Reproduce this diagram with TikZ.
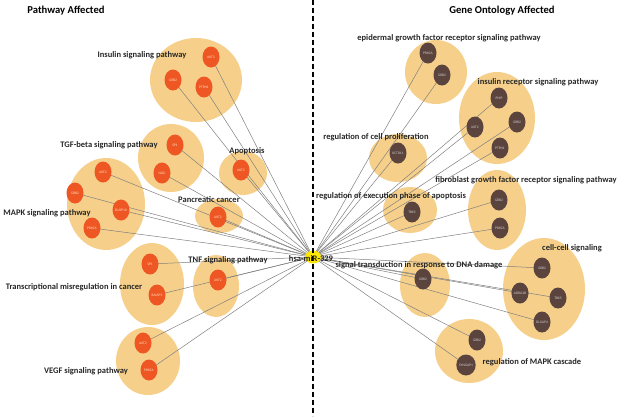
\documentclass[tikz,border=0pt]{standalone}
\usepackage{fontspec}
\setmainfont{Carlito}
\usepackage{xcolor}
\usetikzlibrary{shapes.geometric}
\definecolor{grpfill}{HTML}{F6D08A}
\definecolor{pgenefill}{HTML}{EE5624}
\definecolor{ggenefill}{HTML}{5C443E}
\definecolor{edgegray}{HTML}{808080}
\pgfdeclarelayer{groups}
\pgfdeclarelayer{edges}
\pgfsetlayers{groups,edges,main}

\begin{document}
\begin{tikzpicture}[x=1pt, y=-1pt,
    grp/.style={ellipse, fill=grpfill, draw=none, inner sep=0pt},
    gene/.style={ellipse, minimum width=17pt, minimum height=21pt, inner sep=0pt,
        font=\fontsize{3.6}{4}\selectfont},
    pgene/.style={gene, fill=pgenefill, text=orange!25},
    ggene/.style={gene, fill=ggenefill, text=black!20},
    lbl/.style={font=\fontsize{8.5}{9}\selectfont\bfseries, text=black!85, inner sep=0pt},
    title/.style={font=\fontsize{10.6}{12}\selectfont\bfseries, inner sep=0pt}]
    \useasboundingbox (0,0) rectangle (624,416);

    % group backgrounds
    \begin{pgfonlayer}{groups}
    \node[grp, minimum width=92pt, minimum height=84pt] (ins) at (196,80) {};
    \node[grp, minimum width=66pt, minimum height=68pt] (tgf) at (171,158) {};
    \node[grp, minimum width=48pt, minimum height=44pt] (apo) at (243,173) {};
    \node[grp, minimum width=78pt, minimum height=92pt] (mapk) at (106,204) {};
    \node[grp, minimum width=48pt, minimum height=34pt] (pan) at (219,216) {};
    \node[grp, minimum width=64pt, minimum height=82pt] (trans) at (152,284) {};
    \node[grp, minimum width=46pt, minimum height=62pt] (tnf) at (216,286) {};
    \node[grp, minimum width=64pt, minimum height=68pt] (vegf) at (148,361) {};
    \node[grp, minimum width=62pt, minimum height=64pt] (egf) at (436,72) {};
    \node[grp, minimum width=76pt, minimum height=92pt] (irs) at (497,118) {};
    \node[grp, minimum width=58pt, minimum height=48pt] (prol) at (398,158) {};
    \node[grp, minimum width=54pt, minimum height=46pt] (exe) at (410,210) {};
    \node[grp, minimum width=58pt, minimum height=80pt] (fgf) at (497,210) {};
    \node[grp, minimum width=82pt, minimum height=102pt] (cc) at (544,289) {};
    \node[grp, minimum width=50pt, minimum height=64pt] (dna) at (425,285) {};
    \node[grp, minimum width=68pt, minimum height=64pt] (mapkc) at (469,351) {};
    \end{pgfonlayer}

    % miRNA hub
    \node[ellipse, fill=yellow!90!orange, minimum width=16pt, minimum height=13pt,
        inner sep=0pt] (mir) at (313,257) {};

    % pathway genes
    \node[pgene] (insA) at (211,57) {AKT2};
    \node[pgene] (insG) at (173,80) {GRB2};
    \node[pgene] (insP) at (204,87) {PTPN1};
    \node[pgene] (tgfS) at (175,145) {SP1};
    \node[pgene] (tgfN) at (162,173) {NOG};
    \node[pgene] (apoA) at (241,170) {AKT2};
    \node[pgene] (mapkA) at (103,172) {AKT2};
    \node[pgene] (mapkG) at (75,193) {GRB2};
    \node[pgene] (mapkD) at (121,210) {DUSP10};
    \node[pgene] (mapkP) at (92,228) {PRKCA};
    \node[pgene] (panA) at (218,217) {AKT2};
    \node[pgene] (transS) at (150,264) {SP1};
    \node[pgene] (transB) at (157,295) {BAIAP3};
    \node[pgene] (tnfA) at (218,280) {AKT2};
    \node[pgene] (vegfA) at (143,343) {AKT2};
    \node[pgene] (vegfP) at (149,370) {PRKCA};

    % ontology genes
    \node[ggene] (egfP) at (428,53) {PRKCA};
    \node[ggene] (egfG) at (442,75) {GRB2};
    \node[ggene] (irsH) at (499,98) {PHIP};
    \node[ggene] (irsA) at (475,127) {AKT2};
    \node[ggene] (irsG) at (517,122) {GRB2};
    \node[ggene] (irsP) at (500,148) {PTPN1};
    \node[ggene] (prolK) at (398,153) {KCTD11};
    \node[ggene] (exeT) at (412,212) {TBX5};
    \node[ggene] (fgfG) at (499,200) {GRB2};
    \node[ggene] (fgfP) at (500,228) {PRKCA};
    \node[ggene] (ccG) at (542,268) {GRB2};
    \node[ggene] (ccA) at (520,293) {ADRA2B};
    \node[ggene] (ccT) at (558,298) {TBX5};
    \node[ggene] (ccD) at (542,322) {DLGAP4};
    \node[ggene] (dnaG) at (423,279) {GRB2};
    \node[ggene] (mapkcG) at (477,340) {GRB2};
    \node[ggene] (mapkcS) at (466,365) {SYNGAP1};

    % edges hub -> genes
    \begin{pgfonlayer}{edges}
    \foreach \g in {insA,insG,insP,tgfS,tgfN,apoA,mapkA,mapkG,mapkD,mapkP,panA,
        transS,transB,tnfA,vegfA,vegfP,egfP,egfG,irsH,irsA,irsG,irsP,prolK,exeT,
        fgfG,fgfP,ccG,ccA,ccT,ccD,dnaG,mapkcG,mapkcS}
        \draw[edgegray, line width=0.5pt] (mir.center) -- (\g.center);
    \end{pgfonlayer}

    % divider
    \coordinate (top) at (313,0);
    \coordinate (bot) at (313,416);
    \draw[black, line width=1.6pt, dash pattern=on 5pt off 3pt] (top) -- (bot);

    % group labels
    \node[lbl] (lIns) at (142,55) {Insulin signaling pathway};
    \node[lbl] (lTgf) at (109,145) {TGF-beta signaling pathway};
    \node[lbl] (lApo) at (247,151) {Apoptosis};
    \node[lbl] (lMapk) at (47,213) {MAPK signaling pathway};
    \node[lbl] (lPan) at (209,200) {Pancreatic cancer};
    \node[lbl] (lTrans) at (74,287) {Transcriptional misregulation in cancer};
    \node[lbl] (lTnf) at (228,260) {TNF signaling pathway};
    \node[lbl] (lVegf) at (86,371) {VEGF signaling pathway};
    \node[lbl] (lEgf) at (449,38) {epidermal growth factor receptor signaling pathway};
    \node[lbl] (lIrs) at (538,82) {insulin receptor signaling pathway};
    \node[lbl] (lProl) at (376,137) {regulation of cell proliferation};
    \node[lbl] (lExe) at (391,196) {regulation of execution phase of apoptosis};
    \node[lbl] (lFgf) at (526,180) {fibroblast growth factor receptor signaling pathway};
    \node[lbl] (lCc) at (572,248) {cell-cell signaling};
    \node[lbl] (lDna) at (419,265) {signal transduction in response to DNA damage};
    \node[lbl] (lMapkc) at (532,362) {regulation of MAPK cascade};
    \node[lbl] (lMir) at (311,259) {hsa-miR-329};

    % titles
    \node[title] (tLeft) at (66,11) {Pathway Affected};
    \node[title] (tRight) at (502,11) {Gene Ontology Affected};
\end{tikzpicture}
\end{document}
